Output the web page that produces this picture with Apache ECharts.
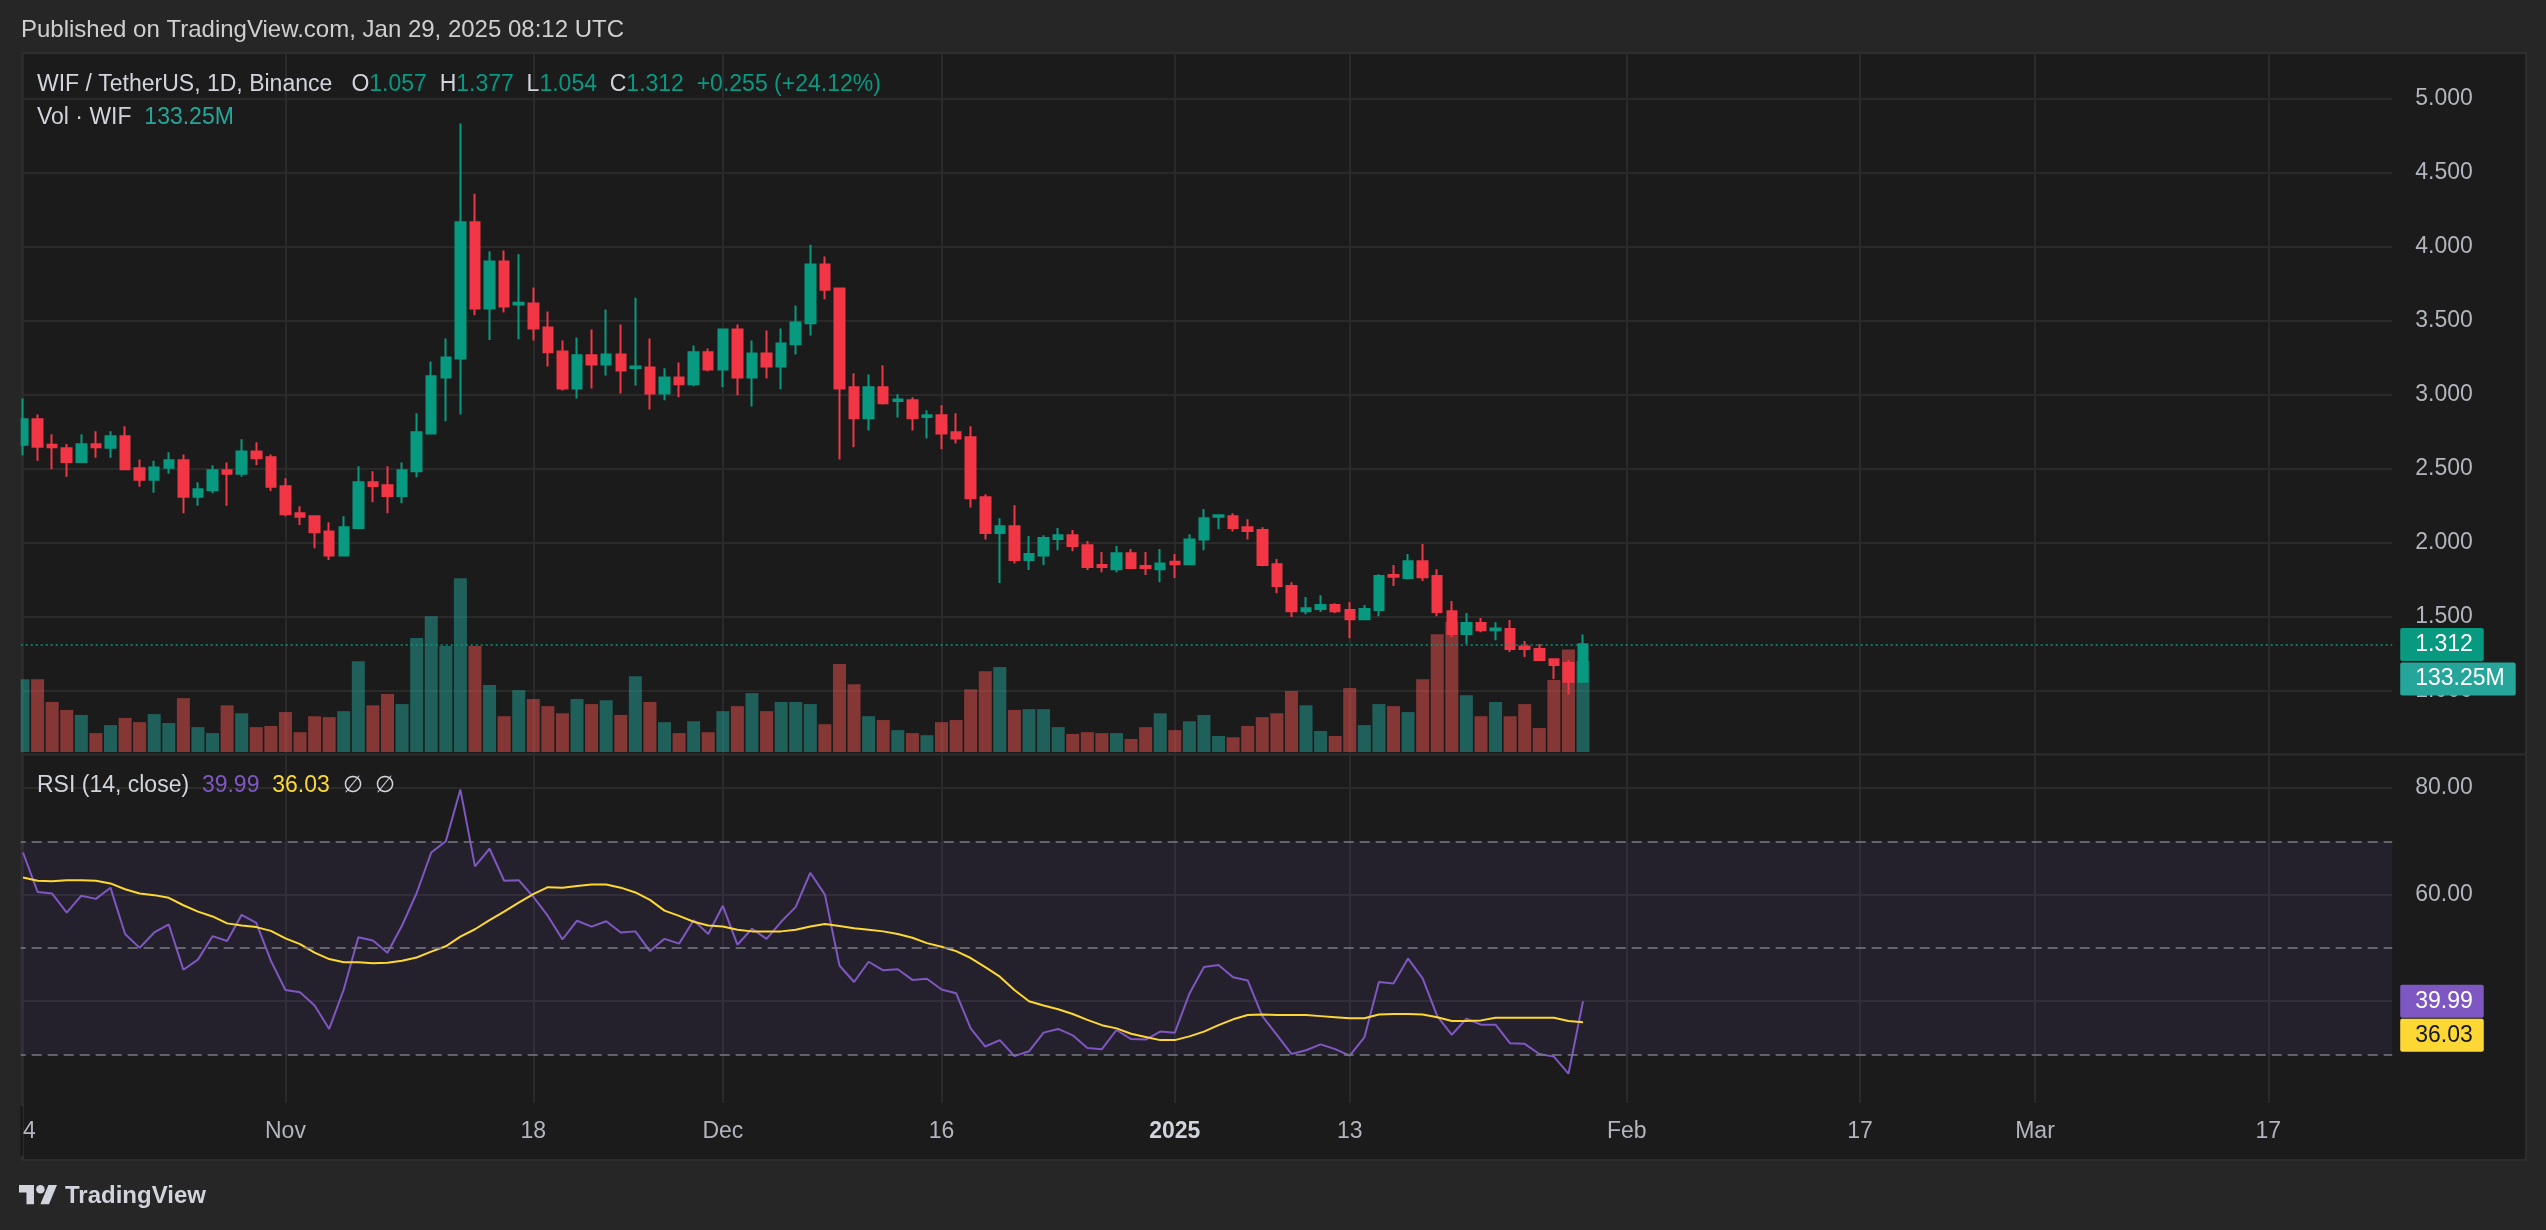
<!DOCTYPE html>
<html>
<head>
<meta charset="utf-8">
<script src="https://cdn.jsdelivr.net/npm/echarts@6/dist/echarts.min.js"></script>
<style>
html,body{margin:0;padding:0;background:#262626;}
#c{width:2546px;height:1230px;}
</style>
</head>
<body>
<div id="c"></div>
<script>
// ---------------- DATA ----------------
// Daily candles, WIF/USDT, 2024-10-14 .. 2025-01-29
const openP = [2.660,2.833,2.660,2.637,2.543,2.663,2.640,2.717,2.501,2.424,
  2.504,2.555,2.308,2.353,2.487,2.464,2.615,2.575,2.379,2.197,
  2.177,2.074,1.912,2.097,2.407,2.387,2.313,2.481,2.737,3.115,
  3.243,4.164,3.581,3.899,3.609,3.615,3.453,3.291,3.041,3.266,
  3.203,3.271,3.180,3.183,3.007,3.115,3.069,3.285,3.169,3.439,
  3.115,3.277,3.189,3.339,3.481,3.879,3.717,3.049,2.839,3.049,
  2.956,2.961,2.848,2.859,2.745,2.711,2.305,2.063,2.109,1.881,
  1.912,2.023,2.049,1.981,1.847,1.819,1.927,1.841,1.819,1.870,
  1.853,2.020,2.174,2.177,2.103,2.083,1.853,1.705,1.534,1.549,
  1.577,1.543,1.480,1.543,1.779,1.759,1.873,1.773,1.534,1.381,
  1.455,1.406,1.415,1.296,1.279,1.210,1.185,1.057];
const highP = [2.973,2.865,2.731,2.666,2.731,2.751,2.751,2.785,2.561,2.552,
  2.609,2.595,2.407,2.521,2.541,2.697,2.677,2.595,2.433,2.245,
  2.182,2.137,2.177,2.515,2.481,2.515,2.541,2.873,3.223,3.379,
  4.832,4.357,3.968,3.973,3.948,3.723,3.561,3.365,3.385,3.439,
  3.575,3.473,3.655,3.379,3.177,3.217,3.331,3.311,3.447,3.473,
  3.365,3.433,3.447,3.601,4.013,3.933,3.723,3.143,3.135,3.197,
  3.001,2.981,2.893,2.927,2.873,2.785,2.325,2.163,2.251,2.043,
  2.049,2.097,2.083,2.009,1.935,1.975,1.955,1.935,1.955,1.921,
  2.055,2.225,2.183,2.197,2.157,2.103,1.887,1.731,1.631,1.642,
  1.588,1.597,1.577,1.785,1.847,1.921,1.989,1.819,1.603,1.523,
  1.489,1.460,1.475,1.333,1.313,1.210,1.205,1.377];
const lowP = [2.589,2.552,2.495,2.444,2.538,2.572,2.572,2.489,2.376,2.336,
  2.464,2.197,2.248,2.333,2.248,2.444,2.524,2.347,2.177,2.117,
  1.961,1.881,1.912,2.097,2.271,2.197,2.265,2.441,2.731,2.819,
  2.865,3.536,3.368,3.555,3.373,3.365,3.189,3.027,2.973,3.041,
  3.129,3.007,3.061,2.899,2.961,2.981,3.055,3.157,3.049,2.995,
  2.919,3.109,3.035,3.271,3.399,3.644,2.561,2.643,2.757,2.933,
  2.845,2.757,2.703,2.629,2.669,2.236,2.020,1.725,1.858,1.813,
  1.847,1.947,1.941,1.813,1.799,1.799,1.819,1.779,1.731,1.759,
  1.853,1.947,2.089,2.074,2.020,1.839,1.657,1.495,1.515,1.529,
  1.523,1.352,1.475,1.500,1.705,1.750,1.739,1.500,1.361,1.313,
  1.392,1.338,1.259,1.225,1.205,1.077,0.974,1.054];
const closeP = [2.833,2.646,2.643,2.543,2.663,2.643,2.717,2.495,2.424,2.507,
  2.555,2.308,2.359,2.487,2.464,2.615,2.569,2.376,2.191,2.174,
  2.069,1.912,2.103,2.407,2.381,2.313,2.487,2.745,3.123,3.251,
  4.164,3.581,3.899,3.595,3.621,3.447,3.285,3.041,3.266,3.203,
  3.271,3.163,3.189,3.007,3.115,3.069,3.285,3.169,3.439,3.115,
  3.277,3.189,3.345,3.487,3.879,3.709,3.041,2.839,3.049,2.941,
  2.967,2.839,2.859,2.737,2.703,2.299,2.063,2.109,1.881,1.921,
  2.029,2.049,1.975,1.833,1.833,1.927,1.827,1.827,1.858,1.853,
  2.020,2.163,2.183,2.097,2.077,1.847,1.705,1.534,1.554,1.577,
  1.534,1.480,1.549,1.773,1.767,1.873,1.765,1.529,1.381,1.455,
  1.406,1.418,1.279,1.279,1.205,1.171,1.057,1.312];
// Volume, millions of WIF
const volumeM = [106.6,106.6,73.3,61.6,54.2,27.7,39.4,49.9,43.7,55.5,
  42.5,78.9,36.4,27.7,68.4,56.7,36.4,38.2,58.5,29.0,
  52.4,51.1,59.8,133.1,68.4,85.0,70.2,167.0,199.0,155.3,
  254.5,155.3,98.0,52.4,90.6,77.6,67.2,56.7,77.6,70.2,
  75.8,54.2,110.9,73.3,43.7,27.7,45.0,29.0,59.8,67.2,
  86.3,59.8,73.3,73.3,70.2,40.7,128.8,99.2,52.4,46.8,
  32.0,27.7,24.6,43.7,46.8,91.8,118.3,124.5,61.6,62.8,
  62.8,36.4,26.5,29.0,27.7,27.7,19.1,36.4,56.7,32.0,
  45.0,54.2,23.4,21.6,38.2,51.1,56.7,89.3,68.4,30.8,
  23.4,93.7,39.4,70.2,67.2,58.5,106.6,172.5,190.4,83.2,
  52.4,73.3,52.4,70.2,35.1,105.4,150.3,133.25];
// RSI(14) and its moving average
const rsi = [67.9,60.5,60.2,56.6,59.8,59.2,61.3,52.6,50.0,52.9,
  54.4,45.9,47.8,52.2,51.3,56.2,54.7,47.6,42.1,41.7,
  39.2,34.8,42.2,52.0,51.4,49.1,54.2,60.3,67.9,70.0,
  79.7,65.3,68.6,62.6,62.7,59.6,56.0,51.6,55.1,54.0,
  55.0,52.9,53.1,49.4,51.7,50.8,55.2,52.6,57.9,50.6,
  53.6,51.7,54.9,57.7,64.1,60.0,46.7,43.6,47.4,45.8,
  46.0,44.0,44.2,42.2,41.5,34.9,31.5,32.7,29.7,30.6,
  34.1,34.8,33.6,31.2,31.0,34.6,32.9,32.8,34.3,34.1,
  41.4,46.4,46.8,44.5,43.9,37.2,33.7,30.1,30.8,31.9,
  31.0,29.8,33.2,43.6,43.3,48.0,44.3,37.2,33.7,36.7,
  35.6,35.6,32.1,32.0,30.1,29.6,26.4,39.99];
const rsiMA = [63.2,62.6,62.5,62.7,62.7,62.6,62.1,61.0,60.2,59.9,
  59.4,58.0,56.8,55.9,54.6,54.2,53.9,53.2,51.8,50.7,
  49.1,47.9,47.3,47.3,47.1,47.2,47.6,48.2,49.3,50.3,
  52.1,53.5,55.2,56.8,58.5,60.1,61.4,61.3,61.6,61.9,
  61.9,61.3,60.4,59.0,57.0,56.0,54.9,54.2,54.0,53.4,
  53.1,53.1,53.1,53.4,54.0,54.5,54.1,53.7,53.4,53.1,
  52.6,51.9,50.9,50.2,49.4,48.1,46.4,44.6,42.1,40.0,
  39.2,38.5,37.6,36.5,35.5,34.9,33.9,33.3,32.7,32.7,
  33.4,34.3,35.5,36.6,37.4,37.5,37.4,37.4,37.4,37.2,
  37.0,36.8,36.8,37.5,37.6,37.6,37.5,37.0,36.3,36.3,
  36.4,36.9,36.9,36.9,36.9,36.9,36.3,36.03];
// Time axis: first day and number of day slots visible (through late March)
const firstDay = '2024-10-14';
const daySlots = 163;
const tickDates  = ['2024-10-14','2024-11-01','2024-11-18','2024-12-01','2024-12-16','2025-01-01','2025-01-13','2025-02-01','2025-02-17','2025-03-01','2025-03-17'];
const tickLabels = ['14','Nov','18','Dec','16','2025','13','Feb','17','Mar','17'];
const priceTickLabels = ['1.000','1.500','2.000','2.500','3.000','3.500','4.000','4.500','5.000'];
const rsiTickLabels = ['60.00','80.00'];
const rsiLevels = [70, 50, 30];

// ---------------- BUILD ----------------
const FONT = "'Liberation Sans', Arial, sans-serif";
const UP = '#089981', DOWN = '#f23645';
const VOL_UP = 'rgba(38,166,154,0.5)', VOL_DOWN = 'rgba(239,83,80,0.5)';
const GRIDC = '#2a2a2a';
const TXT = '#b2b5be', TXT2 = '#d1d4dc';
const RSI_C = '#7e57c2', MA_C = '#fdd835';
const NOLINE = { color: 'rgba(0,0,0,0)', width: 0, opacity: 1 };

const categories = [];
{
  const t0 = Date.parse(firstDay + 'T00:00:00Z');
  for (let k = 0; k < daySlots; k++) categories.push(new Date(t0 + k * 86400000).toISOString().slice(0, 10));
}
const tickMap = {};
tickDates.forEach((d, k) => { tickMap[d] = tickLabels[k]; });
const isTick = (idx, val) => Object.prototype.hasOwnProperty.call(tickMap, val);

const candleData = openP.map((o, k) => [o, closeP[k], lowP[k], highP[k]]);
const volData = volumeM.map((v, k) => ({ value: v, itemStyle: { color: closeP[k] >= openP[k] ? VOL_UP : VOL_DOWN } }));
const last = closeP.length - 1;
const chg = closeP[last] - closeP[last - 1];
const pct = chg / closeP[last - 1] * 100;
const fmtSign = v => (v >= 0 ? '+' : '');

const tagLabel = (bg, fg, txt, extra) => Object.assign({
  show: true, position: 'end', distance: 8, formatter: txt, opacity: 1,
  backgroundColor: bg, color: fg, fontSize: 23, fontFamily: FONT, lineHeight: 23,
  padding: [5, 11, 5, 15], borderRadius: 2
}, extra || {});

const gx = { left: 15.71, width: 2376.5, containLabel: false, outerBoundsMode: 'none' };
const xBase = { type: 'category', data: categories, boundaryGap: true };
const richTxt = (c, extra) => Object.assign({ color: c, fontSize: 23, fontFamily: FONT, lineHeight: 26 }, extra || {});

// TradingView logo (styling only)
const LOGO_S = 1.07, LOGO_X = 19, LOGO_Y = 1185 - 4 * 1.07;
const lp = pts => pts.map(p => [LOGO_X + p[0] * LOGO_S, LOGO_Y + p[1] * LOGO_S]);

const option = {
  backgroundColor: '#262626',
  animation: false,
  title: [
    { left: 21, top: 16, padding: 0, text: 'Published on TradingView.com, Jan 29, 2025 08:12 UTC',
      textStyle: { color: '#cfcfcf', fontSize: 24, fontFamily: FONT, fontWeight: 'normal', lineHeight: 28 } },
    { left: 37, top: 72, padding: 0,
      text: '{t|WIF / TetherUS, 1D, Binance}   {t|O}{v|' + openP[last].toFixed(3) + '}  {t|H}{v|' + highP[last].toFixed(3) +
            '}  {t|L}{v|' + lowP[last].toFixed(3) + '}  {t|C}{v|' + closeP[last].toFixed(3) + '}  {v|' +
            fmtSign(chg) + chg.toFixed(3) + ' (' + fmtSign(chg) + pct.toFixed(2) + '%)}',
      textStyle: { color: TXT2, fontSize: 23, fontFamily: FONT, fontWeight: 'normal', lineHeight: 26,
        rich: { t: richTxt(TXT2), v: richTxt(UP) } } },
    { left: 37, top: 105, padding: 0,
      text: '{t|Vol · WIF}  {v|' + volumeM[last].toFixed(2) + 'M}',
      textStyle: { color: TXT2, fontSize: 23, fontFamily: FONT, fontWeight: 'normal', lineHeight: 26,
        rich: { t: richTxt(TXT2), v: richTxt('#26a69a') } } },
    { left: 37, top: 773, padding: 0,
      text: '{t|RSI (14, close)}  {p|' + rsi[last].toFixed(2) + '}  {y|' + rsiMA[last].toFixed(2) + '}  {t|∅}  {t|∅}',
      textStyle: { color: TXT2, fontSize: 23, fontFamily: FONT, fontWeight: 'normal', lineHeight: 26,
        rich: { t: richTxt(TXT2), p: richTxt(RSI_C), y: richTxt(MA_C) } } },
    { left: 65, top: 1183, padding: 0, text: 'TradingView',
      textStyle: { color: TXT2, fontSize: 24, fontFamily: FONT, fontWeight: 'bold', lineHeight: 26 } }
  ],
  graphic: [
    { type: 'rect', z: -100, silent: true, shape: { x: 22.7, y: 53, width: 2503.3, height: 1107 },
      style: { fill: '#1b1b1b', stroke: '#2e2e2e', lineWidth: 2 } },
    { type: 'rect', z: -100, silent: true, shape: { x: 20.7, y: 53, width: 3, height: 1107 },
      style: { fill: '#2e2e2e' } },
    { type: 'line', z: -50, silent: true, shape: { x1: 20.7, y1: 754.6, x2: 2526, y2: 754.6 },
      style: { stroke: '#2e2e2e', lineWidth: 2 } },
    { type: 'rect', z: 100, silent: true, shape: { x: 0, y: 52, width: 20.7, height: 1110 },
      style: { fill: '#262626' } },
    { type: 'rect', z: 100, silent: true, shape: { x: 20, y: 1106, width: 3, height: 50 },
      style: { fill: '#1b1b1b' } },
    { type: 'polygon', z: 100, silent: true, shape: { points: lp([[14,22],[7,22],[7,11],[0,11],[0,4],[14,4]]) }, style: { fill: TXT2 } },
    { type: 'polygon', z: 100, silent: true, shape: { points: lp([[28,22],[20,22],[27.5,4],[35.5,4]]) }, style: { fill: TXT2 } },
    { type: 'circle', z: 100, silent: true, shape: { cx: LOGO_X + 20 * LOGO_S, cy: LOGO_Y + 8 * LOGO_S, r: 4 * LOGO_S }, style: { fill: TXT2 } }
  ],
  grid: [
    Object.assign({ top: 53, height: 1050 }, gx),
    Object.assign({ top: 24.75, height: 739.5 }, gx),
    Object.assign({ top: 552, height: 200 }, gx),
    Object.assign({ top: 681.4, height: 426.4 }, gx)
  ],
  xAxis: [
    Object.assign({}, xBase, {
      gridIndex: 0,
      axisLine: { show: false }, axisTick: { show: false },
      axisLabel: {
        interval: isTick, color: TXT, fontSize: 23, fontFamily: FONT, margin: 17,
        formatter: v => { const s = tickMap[v] || ''; return /^\d{4}$/.test(s) ? '{b|' + s + '}' : s; },
        rich: { b: { fontWeight: 'bold', color: TXT2, fontSize: 23, fontFamily: FONT } }
      },
      splitLine: { show: true, interval: isTick, alignWithLabel: true, lineStyle: { color: GRIDC, width: 2 } }
    }),
    Object.assign({}, xBase, { gridIndex: 1, show: false }),
    Object.assign({}, xBase, { gridIndex: 2, show: false }),
    Object.assign({}, xBase, { gridIndex: 3, show: false })
  ],
  yAxis: [
    { gridIndex: 0, type: 'value', show: false },
    { gridIndex: 1, type: 'value', position: 'right', min: 0.5, max: 5.5, interval: 0.5,
      axisLine: { show: false }, axisTick: { show: false },
      axisLabel: { color: TXT, fontSize: 23, fontFamily: FONT, margin: 23, showMinLabel: false, showMaxLabel: false,
        formatter: v => { const s = v.toFixed(3); return priceTickLabels.indexOf(s) >= 0 ? s : ''; } },
      splitLine: { show: true, showMinLine: false, showMaxLine: false, lineStyle: { color: GRIDC, width: 2 } } },
    { gridIndex: 2, type: 'value', min: 0, max: 293, show: false },
    { gridIndex: 3, type: 'value', position: 'right', min: 20, max: 100, interval: 20,
      axisLine: { show: false }, axisTick: { show: false },
      axisLabel: { color: TXT, fontSize: 23, fontFamily: FONT, margin: 23, showMinLabel: false, showMaxLabel: false,
        formatter: v => { const s = v.toFixed(2); return rsiTickLabels.indexOf(s) >= 0 ? s : ''; } },
      splitLine: { show: true, showMinLine: false, showMaxLine: false, lineStyle: { color: GRIDC, width: 2 } } }
  ],
  series: [
    { type: 'bar', name: 'Volume', xAxisIndex: 2, yAxisIndex: 2, data: volData, barWidth: 13, z: 2, clip: false,
      markLine: { symbol: 'none', silent: true, animation: false, z: 10,
        data: [{ yAxis: volumeM[last] }], lineStyle: NOLINE,
        label: tagLabel('#26a69a', '#ffffff', volumeM[last].toFixed(2) + 'M', { offset: [0, 18] }) } },
    { type: 'candlestick', name: 'WIF', xAxisIndex: 1, yAxisIndex: 1, data: candleData, barWidth: 10, z: 3, clip: false,
      itemStyle: { color: UP, color0: DOWN, borderColor: UP, borderColor0: DOWN, borderWidth: 2 },
      markLine: { symbol: 'none', silent: true, animation: false,
        data: [{ yAxis: closeP[last] }],
        lineStyle: { color: UP, type: [2, 3], width: 1.5 },
        label: tagLabel(UP, '#ffffff', closeP[last].toFixed(3)) } },
    { type: 'line', name: 'RSI', xAxisIndex: 3, yAxisIndex: 3, data: rsi, symbol: 'none', z: 2, clip: false,
      lineStyle: { color: RSI_C, width: 2 },
      markArea: { silent: true, itemStyle: { color: 'rgba(126,87,194,0.1)' },
        data: [[{ yAxis: rsiLevels[2] }, { yAxis: rsiLevels[0] }]] },
      markLine: { symbol: 'none', silent: true, animation: false,
        lineStyle: { color: '#787b86', type: [10, 6], width: 1.5 },
        label: { show: false },
        data: rsiLevels.map(v => ({ yAxis: v })).concat([
          { yAxis: rsi[last], lineStyle: NOLINE, label: tagLabel(RSI_C, '#ffffff', rsi[last].toFixed(2)) }
        ]) } },
    { type: 'line', name: 'RSI MA', xAxisIndex: 3, yAxisIndex: 3, data: rsiMA, symbol: 'none', z: 2, clip: false,
      lineStyle: { color: MA_C, width: 2 },
      markLine: { symbol: 'none', silent: true, animation: false,
        data: [{ yAxis: rsiMA[last] }], lineStyle: NOLINE,
        label: tagLabel(MA_C, '#131722', rsiMA[last].toFixed(2), { offset: [0, 13] }) } }
  ]
};

const chart = echarts.init(document.getElementById('c'), null, { renderer: 'canvas', width: 2546, height: 1230 });
chart.setOption(option);
</script>
</body>
</html>
